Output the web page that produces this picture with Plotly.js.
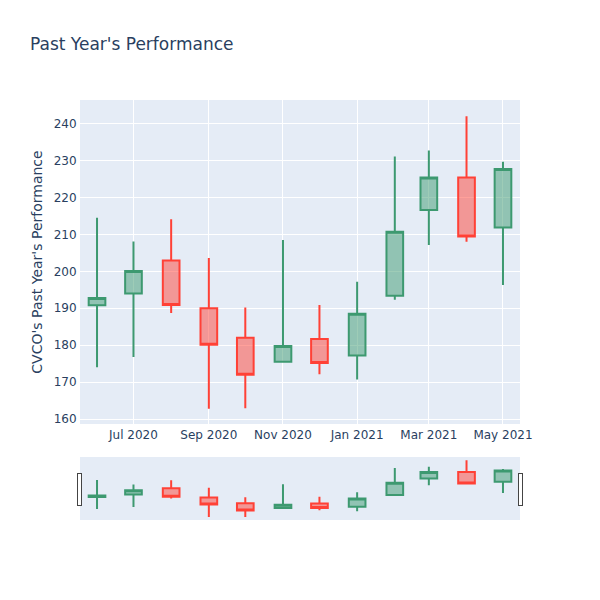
<!DOCTYPE html>
<html>
<head>
<meta charset="utf-8">
<script src="https://cdn.plot.ly/plotly-3.0.1.min.js"></script>
<style>
  html, body { margin: 0; padding: 0; background: #fff; }
  #chart { width: 600px; height: 600px; }
</style>
</head>
<body>
<div id="chart"></div>
<script>
// Monthly OHLC for CVCO
const dates = [
    '2020-06-01', '2020-07-01', '2020-08-01', '2020-09-01',
    '2020-10-01', '2020-11-01', '2020-12-01', '2021-01-01',
    '2021-02-01', '2021-03-01', '2021-04-01', '2021-05-01'
];
const opens  = [190.8, 194.0, 202.9, 190.0, 182.0, 175.5, 181.7, 177.2, 193.4, 216.6, 225.4, 211.9];
const highs  = [214.5, 208.1, 214.1, 203.6, 190.2, 208.5, 190.9, 197.2, 231.1, 232.7, 242.0, 229.7];
const lows   = [174.0, 176.8, 188.7, 162.8, 162.9, 175.5, 172.1, 170.7, 192.3, 207.1, 208.0, 196.3];
const closes = [192.8, 200.1, 190.9, 180.1, 172.0, 179.8, 175.2, 188.5, 210.7, 225.4, 209.4, 227.7];

const ticker = 'CVCO';
const chartTitle = "Past Year's Performance";

const trace = {
    type: 'candlestick',
    x: dates,
    open: opens,
    high: highs,
    low: lows,
    close: closes,
    increasing: { line: { color: '#3D9970' } },
    decreasing: { line: { color: '#FF4136' } }
};

const layout = {
    width: 600,
    height: 600,
    font: { family: '"DejaVu Sans", verdana, arial, sans-serif', color: '#2a3f5f', size: 12 },
    paper_bgcolor: '#ffffff',
    plot_bgcolor: '#E5ECF6',
    title: { text: chartTitle, x: 0.05, font: { size: 17 } },
    margin: { t: 100, b: 80, l: 80, r: 80 },
    showlegend: false,
    xaxis: {
        type: 'date',
        gridcolor: 'white',
        linecolor: 'white',
        ticks: '',
        zerolinecolor: 'white',
        rangeslider: { visible: true }
    },
    yaxis: {
        title: { text: ticker + "'s " + chartTitle, font: { size: 14 } },
        range: [158.65, 246.4],
        gridcolor: 'white',
        linecolor: 'white',
        ticks: '',
        zerolinecolor: 'white',
        zerolinewidth: 2
    }
};

Plotly.newPlot('chart', [trace], layout, { displayModeBar: false });
</script>
</body>
</html>
